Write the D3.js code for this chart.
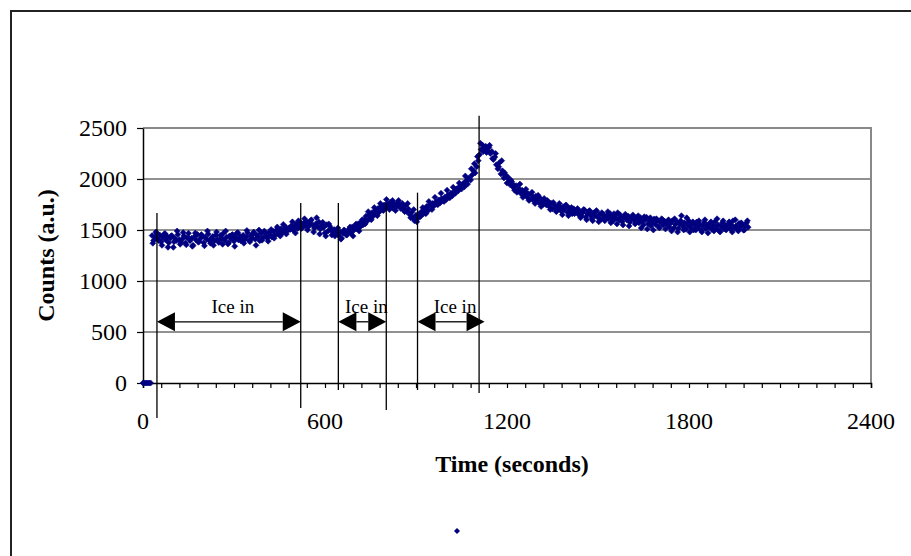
<!DOCTYPE html>
<html>
<head>
<meta charset="utf-8">
<script src="https://cdn.jsdelivr.net/npm/d3@7/dist/d3.min.js"></script>
<style>
  body { margin: 0; background: #fff; }
  text { font-family: "Liberation Serif", "Times New Roman", serif; }
</style>
</head>
<body>
<div id="chart"></div>
<script>
// tick labels
var xTicks = [0, 600, 1200, 1800, 2400];
var yTicks = [0, 500, 1000, 1500, 2000, 2500];

// zero readings before the sample goes in
var zeroTimes = [0, 5, 10, 15, 20, 25];

// counts, one reading every 5 s starting at 30 s
var startTime = 30, step = 5;
var counts = [
  1445,1398,1432,1470,1410,1452,1385,1428,1460,1402,1437,1375,1418,1445,1330,1420,1398,1456,1405,1380,
  1412,1440,1372,1425,1468,1395,1418,1350,1436,1402,1455,1388,1420,1441,1376,1430,1409,1462,1395,1418,
  1436,1392,1452,1410,1378,1445,1420,1468,1398,1430,1362,1441,1415,1455,1390,1427,1470,1402,1438,1412,
  1448,1405,1430,1472,1398,1443,1420,1480,1410,1452,1436,1395,1468,1425,1490,1442,1418,1475,1450,1430,
  1485,1448,1500,1462,1475,1512,1470,1495,1530,1488,1520,1505,1545,1498,1530,1560,1515,1548,1572,1530,
  1565,1540,1580,1532,1555,1600,1548,1520,1562,1535,1578,1510,1546,1525,1470,1552,1490,1538,1515,1480,
  1505,1462,1490,1445,1478,1420,1468,1495,1452,1480,1512,1470,1530,1498,1545,1510,1562,1528,1580,1550,
  1600,1635,1590,1648,1615,1670,1640,1690,1655,1712,1680,1730,1700,1745,1718,1760,1725,1770,1740,1712,
  1755,1728,1770,1742,1710,1760,1698,1735,1680,1705,1650,1672,1620,1590,1645,1610,1660,1632,1685,1660,
  1705,1730,1690,1748,1722,1760,1738,1775,1750,1795,1768,1810,1785,1820,1800,1842,1815,1860,1835,1878,
  1860,1905,1885,1930,1902,1955,1925,1980,1950,2010,1990,2040,2080,2060,2120,2180,2240,2290,2330,2305,
  2320,2280,2310,2250,2270,2190,2215,2140,2100,2160,2050,2080,2010,2035,1960,2000,1945,1975,1920,1890,
  1935,1880,1905,1860,1890,1840,1872,1825,1855,1800,1845,1812,1780,1830,1795,1768,1810,1775,1752,1790,
  1745,1780,1728,1762,1705,1750,1722,1695,1740,1710,1682,1728,1700,1745,1672,1715,1690,1660,1708,1675,
  1695,1655,1680,1640,1672,1698,1625,1660,1685,1645,1610,1668,1640,1690,1622,1652,1605,1660,1635,1615,
  1645,1610,1660,1625,1590,1640,1615,1670,1598,1630,1580,1622,1655,1600,1635,1575,1612,1648,1592,1620,
  1605,1570,1620,1585,1550,1598,1625,1562,1590,1540,1580,1608,1555,1592,1530,1575,1610,1548,1585,1560,
  1575,1530,1568,1590,1520,1555,1582,1515,1560,1640,1535,1572,1508,1550,1588,1525,1562,1500,1545,1578,
  1520,1556,1495,1540,1575,1512,1548,1530,1568,1505,1542,1580,1515,1552,1490,1535,1570,1510,1545,1525,
  1560,1515,1548,1590,1520,1540,1505,1565,1530,1552,1498,1545,1572,1528
];

// second detector pass, one reading every 10 s starting at 32.5 s
var startTimeB = 32.5, stepB = 10;
var countsB = [
  1370,1480,1395,1350,1465,1330,1440,1385,1490,1360,
  1475,1355,1420,1340,1470,1380,1455,1345,1490,1370,
  1350,1480,1395,1360,1490,1375,1450,1340,1475,1395,
  1370,1495,1385,1460,1350,1500,1400,1470,1390,1505,
  1420,1530,1440,1555,1460,1510,1580,1470,1590,1515,
  1610,1500,1590,1480,1620,1460,1575,1440,1560,1450,
  1440,1520,1410,1500,1450,1530,1440,1560,1490,1600,
  1560,1680,1600,1720,1640,1760,1690,1800,1700,1790,
  1690,1790,1720,1680,1760,1620,1700,1580,1640,1720,
  1660,1780,1700,1820,1750,1860,1780,1890,1820,1920,
  1900,1960,1940,2030,2000,2100,2150,2220,2350,2270,
  2260,2330,2200,2250,2120,2180,2060,2020,1990,1940,
  1870,1950,1820,1900,1790,1870,1760,1840,1730,1810,
  1790,1700,1770,1680,1760,1650,1740,1640,1720,1660,
  1710,1620,1700,1600,1690,1590,1680,1580,1670,1590,
  1680,1570,1660,1560,1650,1550,1640,1540,1630,1560,
  1640,1520,1630,1510,1620,1500,1610,1520,1600,1510,
  1600,1490,1610,1480,1590,1500,1620,1480,1580,1500,
  1590,1480,1600,1470,1580,1490,1610,1480,1590,1500,
  1580,1480,1600,1490,1570,1500,1590
];

// vertical marker lines (time, top count, bottom count)
var markerLines = [
  [46, 1667, -343],
  [520, 1765, -245],
  [644, 1765, -69],
  [802, 1765, -265],
  [905, 1866, -69],
  [1108, 2620, -98]
];

// "Ice in" arrows (from time, to time)
var iceArrows = [
  [46, 520],
  [644, 802],
  [905, 1126]
];
var arrowLevel = 600;

var width = 911, height = 556;
var margin = { left: 143, right: 40, top: 128, bottom: 173 };

var svg = d3.select("#chart").append("svg")
  .attr("width", width)
  .attr("height", height);

// outer chart frame
svg.append("rect")
  .attr("x", 11).attr("y", 11)
  .attr("width", 1000).attr("height", 1000)
  .style("fill", "none")
  .style("stroke", "#222")
  .style("stroke-width", 2);

var x = d3.scaleLinear().domain([0, 2400]).range([margin.left, width - margin.right]);
var y = d3.scaleLinear().domain([0, 2500]).range([height - margin.bottom, margin.top]);

// gridlines
svg.append("g")
  .selectAll("line")
  .data(yTicks.slice(1, -1))
  .enter().append("line")
  .attr("x1", x(0)).attr("x2", x(2400))
  .attr("y1", d => y(d)).attr("y2", d => y(d))
  .style("stroke", "#222")
  .style("stroke-width", 1);

// plot area border (top + right)
svg.append("path")
  .attr("d", "M" + x(0) + "," + y(2500) + "H" + x(2400) + "V" + y(0))
  .style("fill", "none")
  .style("stroke", "#888")
  .style("stroke-width", 2);

// x axis
var xAxis = svg.append("g")
  .attr("transform", "translate(0," + y(0) + ")")
  .call(d3.axisBottom(x).tickValues(d3.range(0, 2401, 60)).tickSize(5).tickFormat(""));
xAxis.select(".domain").style("stroke-width", 1.5);
xAxis.selectAll("line").style("stroke-width", 1.2);

svg.append("g")
  .selectAll("text")
  .data(xTicks)
  .enter().append("text")
  .attr("x", d => x(d))
  .attr("y", 429)
  .attr("text-anchor", "middle")
  .style("font-size", "24px")
  .text(d => d);

// y axis
var yAxis = svg.append("g")
  .attr("transform", "translate(" + x(0) + ",0)")
  .call(d3.axisLeft(y).tickValues(yTicks).tickSize(6).tickPadding(10)
    .tickSizeOuter(0).tickFormat(d3.format("d")));
yAxis.select(".domain").style("stroke-width", 1.5);
yAxis.selectAll("line").style("stroke-width", 1.2);
yAxis.selectAll("text")
  .style("font-family", "'Liberation Serif', 'Times New Roman', serif")
  .style("font-size", "24px")
  .attr("fill", "#000");

// axis titles
svg.append("text")
  .attr("x", 512).attr("y", 472)
  .attr("text-anchor", "middle")
  .style("font-size", "24px")
  .style("font-weight", "bold")
  .text("Time (seconds)");

svg.append("text")
  .attr("transform", "translate(54," + ((y(0) + y(2500)) / 2) + ") rotate(-90)")
  .attr("text-anchor", "middle")
  .style("font-size", "24px")
  .style("font-weight", "bold")
  .text("Counts (a.u.)");

// data points
var points = zeroTimes.map(t => [t, 0])
  .concat(counts.map((c, i) => [startTime + i * step, c]))
  .concat(countsB.map((c, i) => [startTimeB + i * stepB, c]));

var diamond = "M0,-3L3,0L0,3L-3,0Z";

svg.append("g")
  .selectAll("path")
  .data(points)
  .enter().append("path")
  .attr("d", diamond)
  .attr("transform", d => "translate(" + x(d[0]) + "," + y(d[1]) + ")")
  .style("fill", "#000080")
  .style("stroke", "#000080")
  .style("stroke-width", 0.6);

// marker lines
svg.append("g")
  .selectAll("line")
  .data(markerLines)
  .enter().append("line")
  .attr("x1", d => x(d[0])).attr("x2", d => x(d[0]))
  .attr("y1", d => y(d[1])).attr("y2", d => y(d[2]))
  .style("stroke", "#000")
  .style("stroke-width", 1.3);

// arrows
var head = 18, half = 9.5;
var arrows = svg.append("g");
iceArrows.forEach(function (a) {
  var x1 = x(a[0]), x2 = x(a[1]), ay = y(arrowLevel);
  arrows.append("line")
    .attr("x1", x1 + head).attr("x2", x2 - head)
    .attr("y1", ay).attr("y2", ay)
    .style("stroke", "#000")
    .style("stroke-width", 1.3);
  arrows.append("path")
    .attr("d", "M" + x1 + "," + ay + "L" + (x1 + head) + "," + (ay - half) + "V" + (ay + half) + "Z")
    .style("fill", "#000");
  arrows.append("path")
    .attr("d", "M" + x2 + "," + ay + "L" + (x2 - head) + "," + (ay - half) + "V" + (ay + half) + "Z")
    .style("fill", "#000");
  arrows.append("text")
    .attr("x", (x1 + x2) / 2 + 4)
    .attr("y", ay - 9)
    .attr("text-anchor", "middle")
    .style("font-size", "19px")
    .text("Ice in");
});

// legend marker (no label)
svg.append("path")
  .attr("d", diamond)
  .attr("transform", "translate(457,531)")
  .style("fill", "#000080");
</script>
</body>
</html>
